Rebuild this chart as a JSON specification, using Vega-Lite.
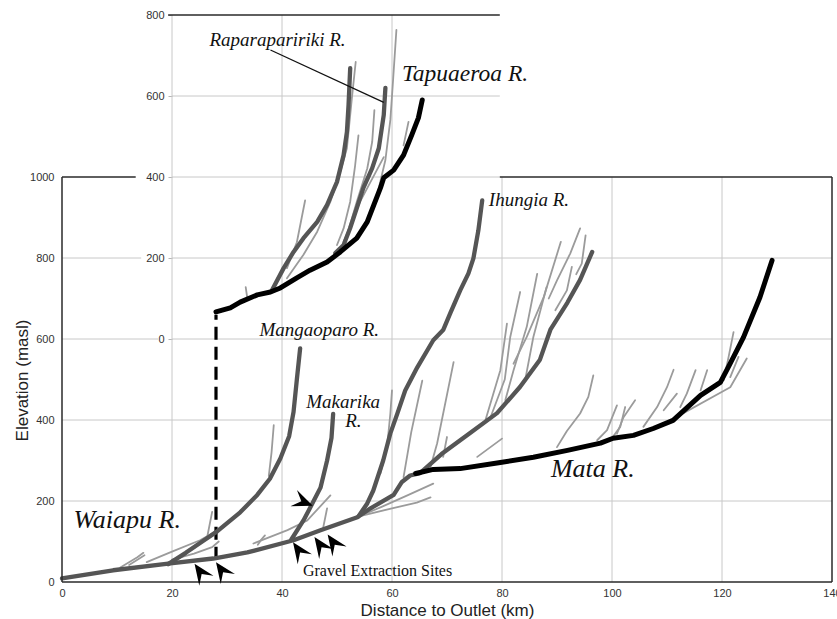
{
  "$schema": "https://vega.github.io/schema/vega-lite/v6.json",
  "width": 770,
  "height": 567,
  "autosize": {"type": "none"},
  "padding": {"left": 62, "top": 15, "right": 5, "bottom": 37},
  "background": "#ffffff",
  "config": {
    "view": {"stroke": null},
    "axis": {"labelFont": "Liberation Sans", "labelFontSize": 11, "labelColor": "#333333", "titleFont": "Liberation Sans", "titleFontSize": 17, "titleFontWeight": "normal", "titleColor": "#222222"},
    "line": {"strokeCap": "round", "strokeJoin": "round"}
  },
  "datasets": {
    "grid": [
      {"km": 20, "m": 0, "km2": 20, "m2": 1400},
      {"km": 40, "m": 0, "km2": 40, "m2": 1400},
      {"km": 60, "m": 0, "km2": 60, "m2": 1400},
      {"km": 80, "m": 0, "km2": 80, "m2": 1000},
      {"km": 100, "m": 0, "km2": 100, "m2": 1000},
      {"km": 120, "m": 0, "km2": 120, "m2": 1000},
      {"km": 0, "m": 200, "km2": 140, "m2": 200},
      {"km": 0, "m": 400, "km2": 140, "m2": 400},
      {"km": 0, "m": 600, "km2": 17.5, "m2": 600},
      {"km": 20, "m": 600, "km2": 140, "m2": 600},
      {"km": 0, "m": 800, "km2": 14.4, "m2": 800},
      {"km": 20, "m": 800, "km2": 140, "m2": 800},
      {"km": 20, "m": 1000, "km2": 79.6, "m2": 1000},
      {"km": 20, "m": 1200, "km2": 79.6, "m2": 1200}
    ],
    "frame": [
      {"km": 0, "m": 0, "km2": 0, "m2": 1000},
      {"km": 0, "m": 0, "km2": 140, "m2": 0},
      {"km": 140, "m": 0, "km2": 140, "m2": 1000},
      {"km": 0, "m": 1000, "km2": 13.4, "m2": 1000},
      {"km": 79.6, "m": 1000, "km2": 140, "m2": 1000},
      {"km": 19.3, "m": 1400, "km2": 79.6, "m2": 1400}
    ],
    "tribs": [
      {"r": "t1", "km": 10.6, "m": 36}, {"r": "t1", "km": 13.7, "m": 61}, {"r": "t1", "km": 14.8, "m": 72},
      {"r": "t1b", "km": 12.2, "m": 42}, {"r": "t1b", "km": 15.0, "m": 66},
      {"r": "t2", "km": 15.4, "m": 49}, {"r": "t2", "km": 20, "m": 75}, {"r": "t2", "km": 25.1, "m": 103}, {"r": "t2", "km": 29.4, "m": 136},
      {"r": "t3", "km": 20, "m": 55}, {"r": "t3", "km": 24, "m": 70}, {"r": "t3", "km": 27.3, "m": 86}, {"r": "t3", "km": 28.5, "m": 100},
      {"r": "t4", "km": 26.4, "m": 111}, {"r": "t4", "km": 27.3, "m": 173},
      {"r": "t5", "km": 37.6, "m": 262}, {"r": "t5", "km": 38.1, "m": 320}, {"r": "t5", "km": 38.5, "m": 387},
      {"r": "t6", "km": 34.8, "m": 95}, {"r": "t6", "km": 41, "m": 128}, {"r": "t6", "km": 44.6, "m": 152}, {"r": "t6", "km": 48.8, "m": 214},
      {"r": "t7", "km": 35.6, "m": 92}, {"r": "t7", "km": 36.2, "m": 104}, {"r": "t7", "km": 36.9, "m": 115},
      {"r": "t8", "km": 47.5, "m": 135}, {"r": "t8", "km": 48.2, "m": 182},
      {"r": "t9", "km": 57.9, "m": 268}, {"r": "t9", "km": 59.1, "m": 333}, {"r": "t9", "km": 59.7, "m": 416}, {"r": "t9", "km": 60, "m": 473},
      {"r": "t10", "km": 62.1, "m": 259}, {"r": "t10", "km": 63.5, "m": 370}, {"r": "t10", "km": 65.5, "m": 497},
      {"r": "t11", "km": 67, "m": 284}, {"r": "t11", "km": 68.2, "m": 342}, {"r": "t11", "km": 71.2, "m": 543},
      {"r": "t12", "km": 69.3, "m": 309}, {"r": "t12", "km": 70, "m": 358},
      {"r": "t13", "km": 52, "m": 150}, {"r": "t13", "km": 58, "m": 185}, {"r": "t13", "km": 63, "m": 215}, {"r": "t13", "km": 67.5, "m": 243},
      {"r": "t14", "km": 54, "m": 162}, {"r": "t14", "km": 60, "m": 182}, {"r": "t14", "km": 64.5, "m": 196}, {"r": "t14", "km": 67, "m": 209},
      {"r": "t16", "km": 75.5, "m": 309}, {"r": "t16", "km": 80, "m": 354},
      {"r": "L1", "km": 77, "m": 400}, {"r": "L1", "km": 79.7, "m": 523}, {"r": "L1", "km": 80.9, "m": 638},
      {"r": "L2", "km": 78, "m": 410}, {"r": "L2", "km": 80.5, "m": 500}, {"r": "L2", "km": 81.5, "m": 605}, {"r": "L2", "km": 83.3, "m": 716},
      {"r": "L3", "km": 80.6, "m": 449}, {"r": "L3", "km": 82.1, "m": 523}, {"r": "L3", "km": 84.5, "m": 630}, {"r": "L3", "km": 86.4, "m": 761},
      {"r": "L4", "km": 84.2, "m": 498}, {"r": "L4", "km": 85.7, "m": 605}, {"r": "L4", "km": 88.1, "m": 728},
      {"r": "L5", "km": 82.1, "m": 539}, {"r": "L5", "km": 84.5, "m": 605}, {"r": "L5", "km": 87.6, "m": 704}, {"r": "L5", "km": 90.7, "m": 840},
      {"r": "L6", "km": 89.7, "m": 671}, {"r": "L6", "km": 91.8, "m": 720}, {"r": "L6", "km": 92.7, "m": 778},
      {"r": "L7", "km": 88.5, "m": 700}, {"r": "L7", "km": 90, "m": 745}, {"r": "L7", "km": 92.4, "m": 811}, {"r": "L7", "km": 94.2, "m": 873},
      {"r": "L8", "km": 93.5, "m": 760}, {"r": "L8", "km": 94.5, "m": 786}, {"r": "L8", "km": 95.2, "m": 856},
      {"r": "M1", "km": 90, "m": 333}, {"r": "M1", "km": 91.8, "m": 373}, {"r": "M1", "km": 94.2, "m": 416}, {"r": "M1", "km": 95.7, "m": 457}, {"r": "M1", "km": 96.6, "m": 510},
      {"r": "M2", "km": 97.3, "m": 350}, {"r": "M2", "km": 99.1, "m": 375}, {"r": "M2", "km": 100.9, "m": 436},
      {"r": "M3", "km": 99.7, "m": 350}, {"r": "M3", "km": 101.5, "m": 383}, {"r": "M3", "km": 102.4, "m": 432},
      {"r": "M4", "km": 100.9, "m": 366}, {"r": "M4", "km": 102.1, "m": 407}, {"r": "M4", "km": 104.2, "m": 449},
      {"r": "M5", "km": 105.7, "m": 383}, {"r": "M5", "km": 108.2, "m": 432}, {"r": "M5", "km": 110, "m": 481}, {"r": "M5", "km": 111.2, "m": 524},
      {"r": "M6", "km": 109.4, "m": 424}, {"r": "M6", "km": 111.8, "m": 465},
      {"r": "M7", "km": 112.4, "m": 432}, {"r": "M7", "km": 113.6, "m": 465}, {"r": "M7", "km": 115.2, "m": 523},
      {"r": "M8", "km": 116.1, "m": 473}, {"r": "M8", "km": 117.3, "m": 523},
      {"r": "M9", "km": 110.6, "m": 399}, {"r": "M9", "km": 121.5, "m": 481}, {"r": "M9", "km": 124.5, "m": 552},
      {"r": "M10", "km": 120.3, "m": 498}, {"r": "M10", "km": 121.2, "m": 556}, {"r": "M10", "km": 122.1, "m": 617},
      {"r": "M11", "km": 121.5, "m": 506}, {"r": "M11", "km": 123, "m": 556}
    ],
    "stems": [
      {"r": "Waiapu", "km": 0, "m": 9}, {"r": "Waiapu", "km": 9.3, "m": 29}, {"r": "Waiapu", "km": 19.7, "m": 46}, {"r": "Waiapu", "km": 27.5, "m": 58},
      {"r": "Waiapu", "km": 33.7, "m": 73}, {"r": "Waiapu", "km": 42.1, "m": 103}, {"r": "Waiapu", "km": 47.0, "m": 128}, {"r": "Waiapu", "km": 53.7, "m": 160},
      {"r": "Waiapu", "km": 56.1, "m": 182}, {"r": "Waiapu", "km": 60.3, "m": 215}, {"r": "Waiapu", "km": 61.8, "m": 247}, {"r": "Waiapu", "km": 63.3, "m": 263},
      {"r": "Waiapu", "km": 65.1, "m": 269}, {"r": "Waiapu", "km": 69.0, "m": 316}, {"r": "Waiapu", "km": 74.2, "m": 368}, {"r": "Waiapu", "km": 79.1, "m": 417},
      {"r": "Waiapu", "km": 83.3, "m": 482}, {"r": "Waiapu", "km": 86.9, "m": 549}, {"r": "Waiapu", "km": 88.8, "m": 623}, {"r": "Waiapu", "km": 91.9, "m": 690},
      {"r": "Waiapu", "km": 94.2, "m": 746}, {"r": "Waiapu", "km": 96.4, "m": 815},
      {"r": "Mangaoparo", "km": 19.3, "m": 44}, {"r": "Mangaoparo", "km": 22.5, "m": 72}, {"r": "Mangaoparo", "km": 25.5, "m": 100}, {"r": "Mangaoparo", "km": 28.2, "m": 125},
      {"r": "Mangaoparo", "km": 32.4, "m": 172}, {"r": "Mangaoparo", "km": 35.5, "m": 215}, {"r": "Mangaoparo", "km": 37.8, "m": 255}, {"r": "Mangaoparo", "km": 39.7, "m": 305},
      {"r": "Mangaoparo", "km": 41.3, "m": 360}, {"r": "Mangaoparo", "km": 42.1, "m": 420}, {"r": "Mangaoparo", "km": 42.7, "m": 500}, {"r": "Mangaoparo", "km": 43.3, "m": 577},
      {"r": "Makarika", "km": 41.7, "m": 105}, {"r": "Makarika", "km": 43.9, "m": 152}, {"r": "Makarika", "km": 45.3, "m": 188}, {"r": "Makarika", "km": 47.0, "m": 233},
      {"r": "Makarika", "km": 48.2, "m": 300}, {"r": "Makarika", "km": 49.0, "m": 356}, {"r": "Makarika", "km": 49.3, "m": 415},
      {"r": "Ihungia", "km": 53.9, "m": 162}, {"r": "Ihungia", "km": 55.5, "m": 194}, {"r": "Ihungia", "km": 56.6, "m": 226}, {"r": "Ihungia", "km": 58.4, "m": 300},
      {"r": "Ihungia", "km": 59.7, "m": 367}, {"r": "Ihungia", "km": 61.0, "m": 417}, {"r": "Ihungia", "km": 62.4, "m": 473}, {"r": "Ihungia", "km": 64.6, "m": 530},
      {"r": "Ihungia", "km": 67.5, "m": 597}, {"r": "Ihungia", "km": 69.3, "m": 622}, {"r": "Ihungia", "km": 70.6, "m": 664}, {"r": "Ihungia", "km": 72.4, "m": 720},
      {"r": "Ihungia", "km": 73.9, "m": 762}, {"r": "Ihungia", "km": 74.8, "m": 799}, {"r": "Ihungia", "km": 75.7, "m": 868}, {"r": "Ihungia", "km": 76.4, "m": 942}
    ],
    "mata": [
      {"km": 64.3, "m": 268}, {"km": 67.5, "m": 278}, {"km": 72.4, "m": 280}, {"km": 79.7, "m": 295}, {"km": 85.7, "m": 308},
      {"km": 91.9, "m": 325}, {"km": 97.9, "m": 343}, {"km": 100.2, "m": 355}, {"km": 103.9, "m": 362}, {"km": 107.5, "m": 379},
      {"km": 111.1, "m": 399}, {"km": 116.1, "m": 461}, {"km": 119.7, "m": 493}, {"km": 121.5, "m": 540}, {"km": 123.9, "m": 604},
      {"km": 126.9, "m": 703}, {"km": 129.1, "m": 794}
    ],
    "insetTribs": [
      {"r": "i1", "km": 57.5, "m": 367}, {"r": "i1", "km": 58.8, "m": 442}, {"r": "i1", "km": 59.7, "m": 541}, {"r": "i1", "km": 60.2, "m": 640}, {"r": "i1", "km": 60.8, "m": 763},
      {"r": "i2", "km": 40.9, "m": 150}, {"r": "i2", "km": 43.9, "m": 208}, {"r": "i2", "km": 46.4, "m": 265}, {"r": "i2", "km": 48.8, "m": 339},
      {"r": "i2", "km": 50.6, "m": 413}, {"r": "i2", "km": 51.8, "m": 471}, {"r": "i2", "km": 52.7, "m": 594}, {"r": "i2", "km": 53.4, "m": 684},
      {"r": "i3", "km": 50.0, "m": 232}, {"r": "i3", "km": 51.2, "m": 273}, {"r": "i3", "km": 52.4, "m": 339}, {"r": "i3", "km": 53.3, "m": 429}, {"r": "i3", "km": 53.9, "m": 503},
      {"r": "i4", "km": 51.8, "m": 256}, {"r": "i4", "km": 53.6, "m": 339}, {"r": "i4", "km": 55.5, "m": 421}, {"r": "i4", "km": 56.4, "m": 487}, {"r": "i4", "km": 56.8, "m": 565},
      {"r": "i5", "km": 51.2, "m": 240}, {"r": "i5", "km": 54.2, "m": 339}, {"r": "i5", "km": 56.1, "m": 388}, {"r": "i5", "km": 58.5, "m": 449},
      {"r": "i6", "km": 40.9, "m": 175}, {"r": "i6", "km": 42.7, "m": 239}, {"r": "i6", "km": 44.2, "m": 342},
      {"r": "i7", "km": 33.4, "m": 128}, {"r": "i7", "km": 33.7, "m": 100},
      {"r": "i8", "km": 62.1, "m": 478}, {"r": "i8", "km": 63.0, "m": 536}
    ],
    "insetStems": [
      {"r": "A", "km": 38.2, "m": 121}, {"r": "A", "km": 40.3, "m": 175}, {"r": "A", "km": 42.1, "m": 215}, {"r": "A", "km": 43.9, "m": 249},
      {"r": "A", "km": 46.4, "m": 289}, {"r": "A", "km": 48.2, "m": 331}, {"r": "A", "km": 50.0, "m": 388}, {"r": "A", "km": 51.2, "m": 454},
      {"r": "A", "km": 51.8, "m": 511}, {"r": "A", "km": 52.1, "m": 578}, {"r": "A", "km": 52.4, "m": 669},
      {"r": "Raparapaririki", "km": 49.7, "m": 212}, {"r": "Raparapaririki", "km": 51.2, "m": 232}, {"r": "Raparapaririki", "km": 52.4, "m": 274},
      {"r": "Raparapaririki", "km": 53.6, "m": 323}, {"r": "Raparapaririki", "km": 54.8, "m": 373}, {"r": "Raparapaririki", "km": 56.4, "m": 422},
      {"r": "Raparapaririki", "km": 57.6, "m": 471}, {"r": "Raparapaririki", "km": 58.5, "m": 553}, {"r": "Raparapaririki", "km": 58.8, "m": 620}
    ],
    "tapuaeroa": [
      {"km": 28.0, "m": 67}, {"km": 30.6, "m": 77}, {"km": 32.4, "m": 91}, {"km": 35.5, "m": 109}, {"km": 37.9, "m": 116},
      {"km": 39.7, "m": 126}, {"km": 42.7, "m": 151}, {"km": 45.1, "m": 170}, {"km": 48.2, "m": 190}, {"km": 50.6, "m": 215},
      {"km": 53.6, "m": 249}, {"km": 55.5, "m": 289}, {"km": 56.7, "m": 331}, {"km": 57.9, "m": 373}, {"km": 58.5, "m": 398},
      {"km": 60.3, "m": 417}, {"km": 62.1, "m": 454}, {"km": 63.6, "m": 504}, {"km": 64.8, "m": 546}, {"km": 65.5, "m": 590}
    ]
  },
  "layer": [
    {
      "layer": [
        {
          "data": {"name": "grid"},
          "mark": {"type": "rule", "color": "#c8c8c8", "strokeWidth": 1},
          "encoding": {
            "x": {"field": "km", "type": "quantitative", "scale": {"domain": [0, 140], "nice": false, "zero": false},
              "axis": {"values": [0, 20, 40, 60, 80, 100, 120, 140], "format": "d", "grid": false, "domain": false, "ticks": false, "tickSize": 0, "labelPadding": 5, "labelFlush": false, "title": "Distance to Outlet (km)", "titleX": 385, "titleY": 33, "titleAlign": "center", "titleBaseline": "alphabetic"}},
            "x2": {"field": "km2"},
            "y": {"field": "m", "type": "quantitative", "scale": {"domain": [0, 1400], "nice": false, "zero": false},
              "axis": {"values": [0, 200, 400, 600, 800, 1000], "format": "d", "grid": false, "domain": false, "ticks": false, "tickSize": 0, "labelPadding": 8, "title": "Elevation (masl)", "titleX": -35, "titleY": 365, "titleAngle": -90, "titleAlign": "center", "titleBaseline": "alphabetic"}},
            "y2": {"field": "m2"}
          }
        },
        {
          "data": {"name": "tribs"},
          "mark": {"type": "line", "color": "#9b9b9b", "strokeWidth": 1.8},
          "encoding": {
            "x": {"field": "km", "type": "quantitative", "scale": {"domain": [0, 140], "nice": false, "zero": false}},
            "y": {"field": "m", "type": "quantitative", "scale": {"domain": [0, 1400], "nice": false, "zero": false}},
            "detail": {"field": "r"}
          }
        },
        {
          "data": {"values": [{"km": 28, "m": 55, "m2": 660}]},
          "mark": {"type": "rule", "color": "#000000", "strokeWidth": 3.2, "strokeDash": [13, 7]},
          "encoding": {
            "x": {"field": "km", "type": "quantitative", "scale": {"domain": [0, 140], "nice": false, "zero": false}},
            "y": {"field": "m", "type": "quantitative", "scale": {"domain": [0, 1400], "nice": false, "zero": false}},
            "y2": {"field": "m2"}
          }
        },
        {
          "data": {"name": "stems"},
          "mark": {"type": "line", "color": "#555555", "strokeWidth": 4.3},
          "encoding": {
            "x": {"field": "km", "type": "quantitative", "scale": {"domain": [0, 140], "nice": false, "zero": false}},
            "y": {"field": "m", "type": "quantitative", "scale": {"domain": [0, 1400], "nice": false, "zero": false}},
            "detail": {"field": "r"}
          }
        },
        {
          "data": {"name": "mata"},
          "mark": {"type": "line", "color": "#000000", "strokeWidth": 5},
          "encoding": {
            "x": {"field": "km", "type": "quantitative", "scale": {"domain": [0, 140], "nice": false, "zero": false}},
            "y": {"field": "m", "type": "quantitative", "scale": {"domain": [0, 1400], "nice": false, "zero": false}}
          }
        },
        {
          "data": {"name": "frame"},
          "mark": {"type": "rule", "color": "#2a2a2a", "strokeWidth": 1.5},
          "encoding": {
            "x": {"field": "km", "type": "quantitative", "scale": {"domain": [0, 140], "nice": false, "zero": false}},
            "x2": {"field": "km2"},
            "y": {"field": "m", "type": "quantitative", "scale": {"domain": [0, 1400], "nice": false, "zero": false}},
            "y2": {"field": "m2"}
          }
        },
        {
          "data": {"values": [{"km": 24.1, "m": 45}, {"km": 28.0, "m": 49}, {"km": 42.0, "m": 98}, {"km": 45.9, "m": 111}, {"km": 48.3, "m": 117}]},
          "mark": {"type": "point", "shape": "M0,0L-1,-0.42L-0.6,0L-1,0.42Z", "size": 1700, "angle": 235, "filled": true, "color": "#000000", "opacity": 1, "strokeWidth": 0},
          "encoding": {
            "x": {"field": "km", "type": "quantitative", "scale": {"domain": [0, 140], "nice": false, "zero": false}},
            "y": {"field": "m", "type": "quantitative", "scale": {"domain": [0, 1400], "nice": false, "zero": false}}
          }
        },
        {
          "data": {"values": [{"km": 45.6, "m": 188}]},
          "mark": {"type": "point", "shape": "M0,0L-1,-0.42L-0.6,0L-1,0.42Z", "size": 1700, "angle": 22, "filled": true, "color": "#000000", "opacity": 1, "strokeWidth": 0},
          "encoding": {
            "x": {"field": "km", "type": "quantitative", "scale": {"domain": [0, 140], "nice": false, "zero": false}},
            "y": {"field": "m", "type": "quantitative", "scale": {"domain": [0, 1400], "nice": false, "zero": false}}
          }
        },
        {
          "data": {"values": [{"km": 2.1, "m": 133, "label": "Waiapu R."}, {"km": 88.9, "m": 259, "label": "Mata R."}]},
          "mark": {"type": "text", "font": "Liberation Serif", "fontStyle": "italic", "fontSize": 26, "align": "left", "baseline": "alphabetic", "color": "#111111"},
          "encoding": {
            "x": {"field": "km", "type": "quantitative", "scale": {"domain": [0, 140], "nice": false, "zero": false}},
            "y": {"field": "m", "type": "quantitative", "scale": {"domain": [0, 1400], "nice": false, "zero": false}},
            "text": {"field": "label"}
          }
        },
        {
          "data": {"values": [{"km": 77.6, "m": 928, "label": "Ihungia R."}, {"km": 35.9, "m": 607, "label": "Mangaoparo R."}, {"km": 44.4, "m": 430, "label": "Makarika"}, {"km": 51.5, "m": 383, "label": "R."}]},
          "mark": {"type": "text", "font": "Liberation Serif", "fontStyle": "italic", "fontSize": 19, "align": "left", "baseline": "alphabetic", "color": "#111111"},
          "encoding": {
            "x": {"field": "km", "type": "quantitative", "scale": {"domain": [0, 140], "nice": false, "zero": false}},
            "y": {"field": "m", "type": "quantitative", "scale": {"domain": [0, 1400], "nice": false, "zero": false}},
            "text": {"field": "label"}
          }
        },
        {
          "data": {"values": [{"km": 43.8, "m": 14, "label": "Gravel Extraction Sites"}]},
          "mark": {"type": "text", "font": "Liberation Serif", "fontSize": 16, "align": "left", "baseline": "alphabetic", "color": "#111111"},
          "encoding": {
            "x": {"field": "km", "type": "quantitative", "scale": {"domain": [0, 140], "nice": false, "zero": false}},
            "y": {"field": "m", "type": "quantitative", "scale": {"domain": [0, 1400], "nice": false, "zero": false}},
            "text": {"field": "label"}
          }
        }
      ]
    },
    {
      "layer": [
        {
          "data": {"name": "insetTribs"},
          "mark": {"type": "line", "color": "#9b9b9b", "strokeWidth": 1.8},
          "encoding": {
            "x": {"field": "km", "type": "quantitative", "scale": {"domain": [0, 140], "nice": false, "zero": false}},
            "y": {"field": "m", "type": "quantitative", "scale": {"domain": [-600, 800], "nice": false, "zero": false},
              "axis": {"orient": "left", "offset": -110, "values": [0, 200, 400, 600, 800], "format": "d", "grid": false, "domain": false, "ticks": true, "tickSize": 4, "tickColor": "#b5b5b5", "labelPadding": 4, "title": null}},
            "detail": {"field": "r"}
          }
        },
        {
          "data": {"name": "insetStems"},
          "mark": {"type": "line", "color": "#555555", "strokeWidth": 4.3},
          "encoding": {
            "x": {"field": "km", "type": "quantitative", "scale": {"domain": [0, 140], "nice": false, "zero": false}},
            "y": {"field": "m", "type": "quantitative", "scale": {"domain": [-600, 800], "nice": false, "zero": false}},
            "detail": {"field": "r"}
          }
        },
        {
          "data": {"name": "tapuaeroa"},
          "mark": {"type": "line", "color": "#000000", "strokeWidth": 5},
          "encoding": {
            "x": {"field": "km", "type": "quantitative", "scale": {"domain": [0, 140], "nice": false, "zero": false}},
            "y": {"field": "m", "type": "quantitative", "scale": {"domain": [-600, 800], "nice": false, "zero": false}}
          }
        },
        {
          "data": {"values": [{"km": 37.9, "m": 713.6, "km2": 58.5, "m2": 584.4}]},
          "mark": {"type": "rule", "color": "#111111", "strokeWidth": 1.3},
          "encoding": {
            "x": {"field": "km", "type": "quantitative", "scale": {"domain": [0, 140], "nice": false, "zero": false}},
            "x2": {"field": "km2"},
            "y": {"field": "m", "type": "quantitative", "scale": {"domain": [-600, 800], "nice": false, "zero": false}},
            "y2": {"field": "m2"}
          }
        },
        {
          "data": {"values": [{"km": 61.8, "m": 636, "label": "Tapuaeroa R."}]},
          "mark": {"type": "text", "font": "Liberation Serif", "fontStyle": "italic", "fontSize": 23.5, "align": "left", "baseline": "alphabetic", "color": "#111111"},
          "encoding": {
            "x": {"field": "km", "type": "quantitative", "scale": {"domain": [0, 140], "nice": false, "zero": false}},
            "y": {"field": "m", "type": "quantitative", "scale": {"domain": [-600, 800], "nice": false, "zero": false}},
            "text": {"field": "label"}
          }
        },
        {
          "data": {"values": [{"km": 26.8, "m": 723.5, "label": "Raparapaririki R."}]},
          "mark": {"type": "text", "font": "Liberation Serif", "fontStyle": "italic", "fontSize": 19, "align": "left", "baseline": "alphabetic", "color": "#111111"},
          "encoding": {
            "x": {"field": "km", "type": "quantitative", "scale": {"domain": [0, 140], "nice": false, "zero": false}},
            "y": {"field": "m", "type": "quantitative", "scale": {"domain": [-600, 800], "nice": false, "zero": false}},
            "text": {"field": "label"}
          }
        }
      ]
    }
  ],
  "resolve": {"scale": {"y": "independent"}, "axis": {"y": "independent"}}
}
